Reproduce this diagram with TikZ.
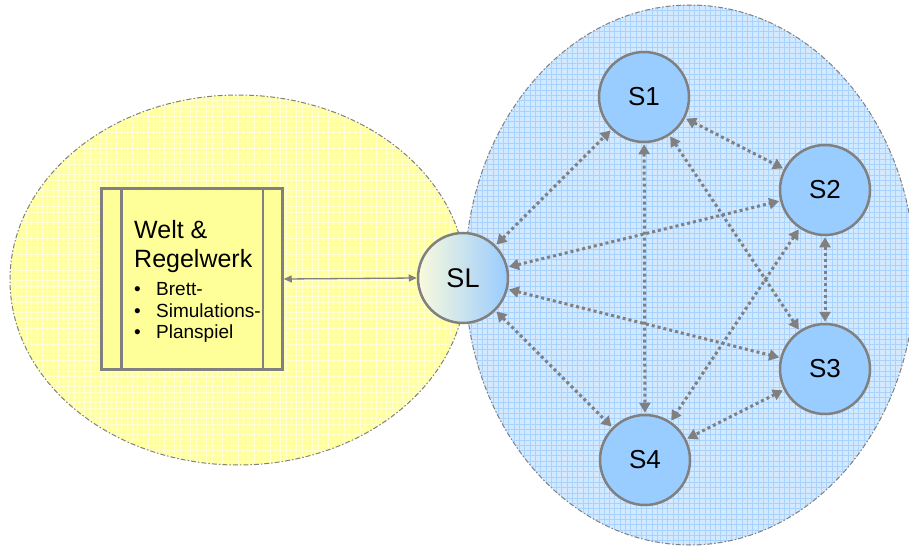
\documentclass[tikz,border=0pt]{standalone}
\usepackage{fontspec}
\setmainfont{Liberation Sans}
\usetikzlibrary{arrows.meta}
\definecolor{bordgray}{HTML}{808080}
\definecolor{ybase}{HTML}{FFFFA0}
\definecolor{ygrid}{HTML}{FFFFD2}
\definecolor{bbase}{HTML}{D2E9FF}
\definecolor{bgrid}{HTML}{A8D3FF}
\definecolor{sfill}{HTML}{99CCFF}
\definecolor{boxfill}{HTML}{FFFF99}
\definecolor{slleft}{HTML}{FAFADC}
\tikzset{
  snode/.style={circle, draw=bordgray, line width=2.5pt, fill=sfill, minimum size=90pt, inner sep=0pt, font=\fontsize{26}{28}\selectfont},
  dotarrow/.style={draw=bordgray, line width=3pt, dash pattern=on 3pt off 3pt, {Triangle[length=10pt,width=11pt]}-{Triangle[length=10pt,width=11pt]}, shorten <=1pt, shorten >=1pt},
  regionborder/.style={draw=bordgray, line width=1pt, dash pattern=on 5pt off 2pt on 1.5pt off 2pt},
  boxtext/.style={anchor=base west, inner sep=0pt, font=\fontsize{25}{28}\selectfont},
  bullettext/.style={anchor=base west, inner sep=0pt, font=\fontsize{19}{21}\selectfont},
}
\begin{document}
\begin{tikzpicture}[x=1pt,y=-1pt]
\useasboundingbox (0,0) rectangle (909,548);
% yellow region
\begin{scope}
  \clip (238,280) ellipse [x radius=228, y radius=185];
  \fill[ybase] (0,0) rectangle (909,548);
  \draw[ygrid, line width=0.9pt] (0,0) grid[step=5.3pt] (909,548);
\end{scope}
\draw[regionborder] (238,280) ellipse [x radius=228, y radius=185];
% blue region
\begin{scope}
  \clip (690,275) ellipse [x radius=225, y radius=270];
  \fill[bbase] (0,0) rectangle (909,548);
  \draw[bgrid, line width=0.8pt] (0,0) grid[step=5.3pt] (909,548);
\end{scope}
\draw[regionborder] (690,275) ellipse [x radius=225, y radius=270];
% box
\node[draw=bordgray, line width=2.5pt, fill=boxfill, minimum width=181pt, minimum height=181pt, inner sep=0pt] (box) at (192,279) {};
\draw[bordgray, line width=2.5pt] (box.north west) ++(21,0) coordinate (bl1) -- (bl1 |- box.south);
\draw[bordgray, line width=2.5pt] (box.north east) ++(-21,0) coordinate (br1) -- (br1 |- box.south);
\node[boxtext] (t1) at (134,238) {Welt \&};
\node[boxtext] (t2) at (134,267) {Regelwerk};
\node[bullettext] (b1) at (134,295) {•};
\node[bullettext] (b2) at (134,317) {•};
\node[bullettext] (b3) at (134,338) {•};
\node[bullettext] (l1) at (156,295) {Brett-};
\node[bullettext] (l2) at (156,317) {Simulations-};
\node[bullettext] (l3) at (156,338) {Planspiel};
% nodes
\node[snode, left color=slleft, right color=sfill, font=\fontsize{27}{30}\selectfont] (SL) at (463,278) {SL};
\node[snode] (S1) at (644,97) {S1};
\node[snode] (S2) at (825,190) {S2};
\node[snode] (S3) at (825,369) {S3};
\node[snode] (S4) at (645,460) {S4};
% connectors
\draw[bordgray, line width=1.3pt, {Triangle[length=8pt,width=7pt]}-{Triangle[length=8pt,width=7pt]}] (box.east) -- (SL.west);
\foreach \a/\b in {SL/S1, SL/S2, SL/S3, SL/S4, S1/S2, S1/S3, S1/S4, S2/S3, S2/S4, S3/S4}
  \draw[dotarrow] (\a) -- (\b);
\end{tikzpicture}
\end{document}
